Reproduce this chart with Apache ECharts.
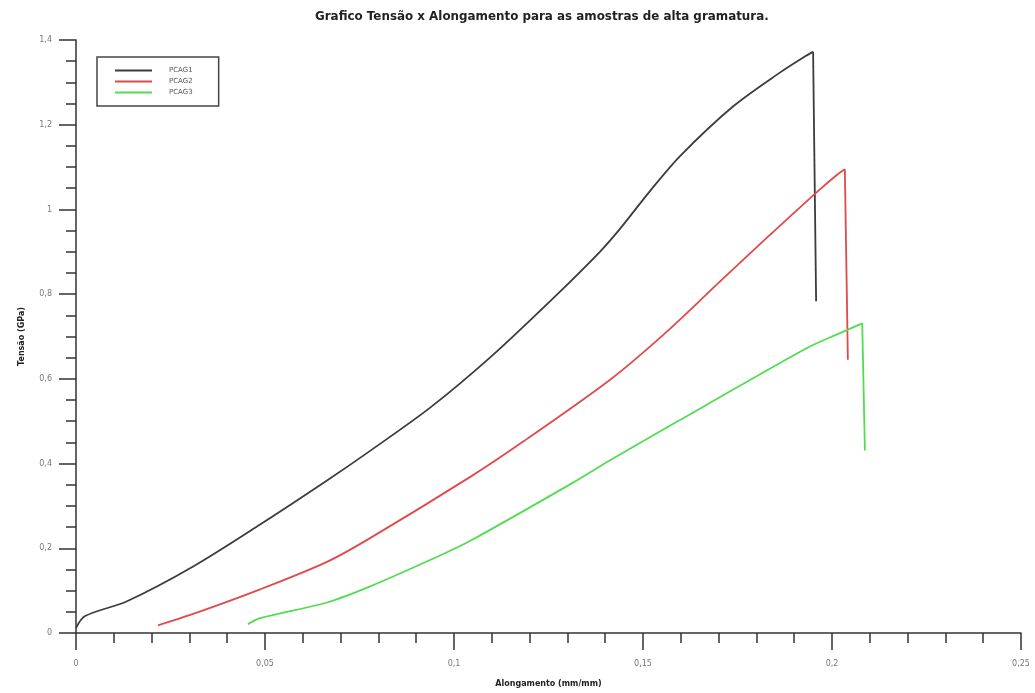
<!DOCTYPE html>
<html>
<head>
<meta charset="utf-8">
<title>Tensão x Alongamento</title>
<script src="https://cdn.jsdelivr.net/npm/echarts@6/dist/echarts.min.js"></script>
<style>
  html, body { margin: 0; padding: 0; background: #fff; }
  #chart { width: 1035px; height: 693px; }
</style>
</head>
<body>
<div id="chart"></div>
<script>
// valores [alongamento, tensão]; o último ponto é a ruptura
const pcag1 = [
  [0, 0.012], [0.0024, 0.04], [0.0135, 0.075], [0.031, 0.157], [0.0487, 0.256],
  [0.0664, 0.36], [0.0778, 0.43], [0.0937, 0.532], [0.1095, 0.65], [0.1262, 0.79],
  [0.1386, 0.9], [0.1439, 0.954], [0.152, 1.045], [0.1598, 1.126], [0.1738, 1.243],
  [0.1862, 1.323], [0.193, 1.362], [0.195, 1.372], [0.1958, 0.783],
];
const pcag2 = [
  [0.0217, 0.018], [0.031, 0.045], [0.0487, 0.103], [0.0664, 0.168], [0.0778, 0.224],
  [0.1042, 0.368], [0.1183, 0.452], [0.1413, 0.598], [0.1555, 0.705], [0.1704, 0.83],
  [0.183, 0.935], [0.196, 1.041], [0.2015, 1.083], [0.2034, 1.095], [0.2042, 0.645],
];
const pcag3 = [
  [0.0455, 0.021], [0.0487, 0.035], [0.0664, 0.072], [0.0778, 0.11], [0.0963, 0.183],
  [0.1042, 0.217], [0.1315, 0.355], [0.1413, 0.408], [0.1669, 0.539], [0.1934, 0.673],
  [0.2021, 0.708], [0.208, 0.731], [0.2087, 0.431],
];
const seriesNames = ['PCAG1', 'PCAG2', 'PCAG3'];
const seriesColors = ['#3c3c3c', '#e04a4a', '#52dc52'];

const chartTitle = 'Grafico Tensão x Alongamento para as amostras de alta gramatura.';
const xName = 'Alongamento (mm/mm)';
const yName = 'Tensão (GPa)';

const font = 'DejaVu Sans';
const axisColor = '#333';

// 0.05 -> "0,05"
function commaLabel(v) {
  return String(+v.toFixed(4)).replace('.', ',');
}

// curva de carga (suavizada) + queda vertical na ruptura
function curveSeries(name, data, color) {
  const base = { type: 'line', symbol: 'none', color, lineStyle: { width: 1.8, color } };
  return [
    { ...base, name, data: data.slice(0, -1), smooth: 0.3 },
    { ...base, name, data: data.slice(-2), smooth: false },
  ];
}

function axisBase() {
  return {
    type: 'value',
    axisLine: { show: true, onZero: false, lineStyle: { color: axisColor, width: 1.5 } },
    axisTick: { show: true, inside: false, length: 17, lineStyle: { color: axisColor, width: 1.5 } },
    splitLine: { show: false },
    nameLocation: 'middle',
    nameTextStyle: { color: '#222', fontSize: 8, fontWeight: 'bold', fontFamily: font },
  };
}

const chart = echarts.init(document.getElementById('chart'), null, { renderer: 'canvas' });

chart.setOption({
  animation: false,
  backgroundColor: '#fff',
  title: {
    text: chartTitle,
    left: 310,
    top: 6,
    textStyle: { fontSize: 11.9, fontWeight: 'bold', color: '#222', fontFamily: font },
  },
  legend: {
    data: seriesNames,
    orient: 'vertical',
    left: 97,
    top: 57,
    icon: 'rect',
    itemWidth: 37,
    itemHeight: 2,
    itemGap: 4,
    padding: [10, 26, 10, 18],
    borderColor: '#444',
    borderWidth: 1.5,
    textStyle: { fontSize: 7, color: '#555', fontFamily: font, padding: [0, 0, 0, 12] },
  },
  grid: { left: 76, right: 14, top: 40, bottom: 56, containLabel: false },
  xAxis: {
    ...axisBase(),
    min: 0,
    max: 0.25,
    interval: 0.05,
    minorTick: { show: true, splitNumber: 5, length: 10, lineStyle: { color: axisColor, width: 1.5 } },
    axisLabel: { color: '#777', fontSize: 8, fontFamily: font, formatter: commaLabel, margin: 27 },
    name: xName,
    nameGap: 47,
  },
  yAxis: {
    ...axisBase(),
    min: 0,
    max: 1.4,
    interval: 0.2,
    minorTick: { show: true, splitNumber: 4, length: 10, lineStyle: { color: axisColor, width: 1.5 } },
    axisLabel: { color: '#777', fontSize: 8, fontFamily: font, formatter: commaLabel, margin: 24 },
    name: yName,
    nameGap: 50,
  },
  series: [
    ...curveSeries(seriesNames[0], pcag1, seriesColors[0]),
    ...curveSeries(seriesNames[1], pcag2, seriesColors[1]),
    ...curveSeries(seriesNames[2], pcag3, seriesColors[2]),
  ],
});
</script>
</body>
</html>
